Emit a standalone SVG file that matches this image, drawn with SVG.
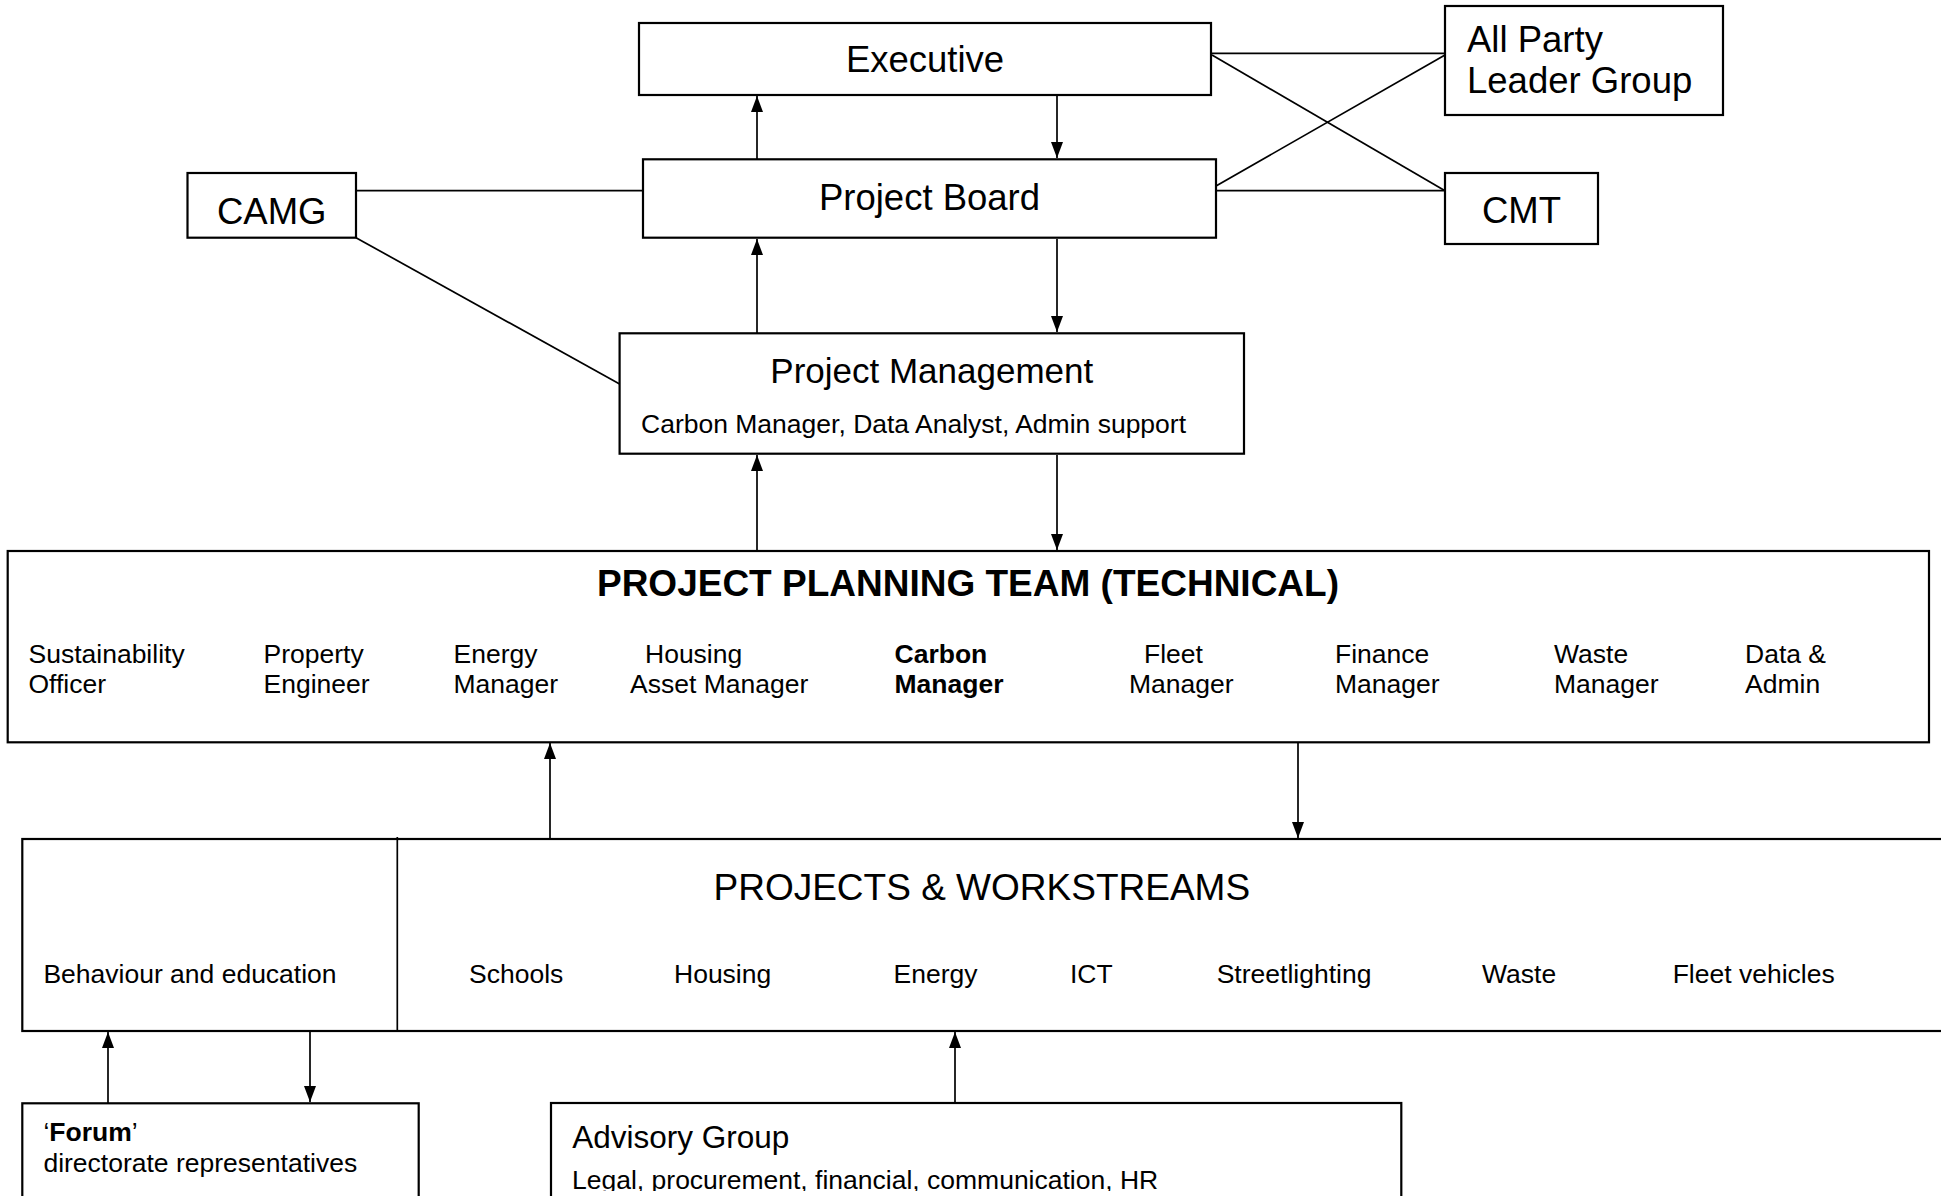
<svg xmlns="http://www.w3.org/2000/svg" width="1941" height="1196" viewBox="0 0 1941 1196">
<style>
  .box { fill: #ffffff; stroke: #000000; stroke-width: 2.2; }
  .ln { stroke: #000000; stroke-width: 1.7; fill: none; }
  .arr { stroke: #000000; stroke-width: 1.7; fill: none; marker-end: url(#ah); }
  text { font-family: "Liberation Sans", Arial, Helvetica, sans-serif; fill: #000000; }
  .big { font-size: 36.5px; }
  .pm { font-size: 35px; }
  .sm { font-size: 26.5px; }
  .smb { font-size: 26.5px; font-weight: bold; }
  .nb { font-weight: normal; }
  .ttl { font-size: 37px; font-weight: bold; }
  .pw { font-size: 37px; }
  .adv { font-size: 31.5px; }
  .mid { text-anchor: middle; }
</style>
<defs>
  <marker id="ah" viewBox="0 0 16 12" refX="16" refY="6" markerWidth="16" markerHeight="12" markerUnits="userSpaceOnUse" orient="auto">
    <path d="M0,0 L16,6 L0,12 Z" fill="#000000"/>
  </marker>
  <clipPath id="cut">
    <rect x="0" y="0" width="1941" height="1191"/>
  </clipPath>
</defs>

<g id="connectors">
  <line class="arr" x1="757" y1="159" x2="757" y2="96"/>
  <line class="arr" x1="1057" y1="96" x2="1057" y2="158"/>
  <line class="arr" x1="757" y1="333" x2="757" y2="239"/>
  <line class="arr" x1="1057" y1="239" x2="1057" y2="332"/>
  <line class="arr" x1="757" y1="551" x2="757" y2="455"/>
  <line class="arr" x1="1057" y1="455" x2="1057" y2="550"/>
  <line class="arr" x1="550" y1="839" x2="550" y2="743"/>
  <line class="arr" x1="1298" y1="743" x2="1298" y2="838"/>
  <line class="arr" x1="108" y1="1103" x2="108" y2="1032"/>
  <line class="arr" x1="310" y1="1032" x2="310" y2="1102"/>
  <line class="arr" x1="955" y1="1103" x2="955" y2="1032"/>
  <line class="ln" x1="356" y1="190.7" x2="643" y2="190.7"/>
  <line class="ln" x1="356" y1="237.7" x2="619.6" y2="384"/>
  <line class="ln" x1="1211" y1="53.3" x2="1445" y2="53.3"/>
  <line class="ln" x1="1212" y1="55" x2="1445" y2="190.7"/>
  <line class="ln" x1="1216" y1="186" x2="1445" y2="55"/>
  <line class="ln" x1="1216" y1="190.7" x2="1445" y2="190.7"/>
</g>

<g id="executive">
  <rect class="box" x="639" y="23" width="572" height="72"/>
  <text class="big mid" x="925" y="72.3">Executive</text>
</g>

<g id="all-party-leader-group">
  <rect class="box" x="1445" y="6" width="278" height="109"/>
  <text class="big" x="1467" y="51.7">All Party</text>
  <text class="big" x="1467" y="93.3">Leader Group</text>
</g>

<g id="camg">
  <rect class="box" x="187.5" y="173" width="168.5" height="64.7"/>
  <text class="big mid" x="271.7" y="224">CAMG</text>
</g>

<g id="project-board">
  <rect class="box" x="643" y="159.3" width="573" height="78.4"/>
  <text class="big mid" x="929.5" y="210">Project Board</text>
</g>

<g id="cmt">
  <rect class="box" x="1445" y="173" width="153" height="71"/>
  <text class="big mid" x="1521.5" y="223.3">CMT</text>
</g>

<g id="project-management">
  <rect class="box" x="619.6" y="333.3" width="624.4" height="120.4"/>
  <text class="pm mid" x="931.8" y="383.3">Project Management</text>
  <text class="sm" x="641" y="432.7">Carbon Manager, Data Analyst, Admin support</text>
</g>

<g id="project-planning-team">
  <rect class="box" x="7.7" y="551" width="1921.3" height="191.3"/>
  <text class="ttl mid" x="968" y="595.7">PROJECT PLANNING TEAM (TECHNICAL)</text>
  <text class="sm" x="28.5" y="663.3">Sustainability</text>
  <text class="sm" x="28.5" y="693.3">Officer</text>
  <text class="sm" x="263.5" y="663.3">Property</text>
  <text class="sm" x="263.5" y="693.3">Engineer</text>
  <text class="sm" x="453.5" y="663.3">Energy</text>
  <text class="sm" x="453.5" y="693.3">Manager</text>
  <text class="sm" x="645" y="663.3">Housing</text>
  <text class="sm" x="630" y="693.3">Asset Manager</text>
  <text class="smb" x="894.5" y="663.3">Carbon</text>
  <text class="smb" x="894.5" y="693.3">Manager</text>
  <text class="sm" x="1144" y="663.3">Fleet</text>
  <text class="sm" x="1129" y="693.3">Manager</text>
  <text class="sm" x="1335" y="663.3">Finance</text>
  <text class="sm" x="1335" y="693.3">Manager</text>
  <text class="sm" x="1554" y="663.3">Waste</text>
  <text class="sm" x="1554" y="693.3">Manager</text>
  <text class="sm" x="1745" y="663.3">Data &amp;</text>
  <text class="sm" x="1745" y="693.3">Admin</text>
</g>

<g id="projects-workstreams">
  <rect class="box" x="22.3" y="839" width="1940" height="192"/>
  <line class="ln" x1="397.3" y1="837" x2="397.3" y2="1031"/>
  <text class="sm" x="43.4" y="983">Behaviour and education</text>
  <text class="pw" x="713.5" y="900">PROJECTS &amp; WORKSTREAMS</text>
  <text class="sm" x="469" y="983">Schools</text>
  <text class="sm" x="674" y="983">Housing</text>
  <text class="sm" x="893.5" y="983">Energy</text>
  <text class="sm" x="1070" y="983">ICT</text>
  <text class="sm" x="1216.7" y="983">Streetlighting</text>
  <text class="sm" x="1482" y="983">Waste</text>
  <text class="sm" x="1672.7" y="983">Fleet vehicles</text>
</g>

<g id="forum">
  <rect class="box" x="22.3" y="1103.3" width="396.4" height="130"/>
  <text class="smb" x="43.4" y="1140.7"><tspan class="nb">‘</tspan>Forum<tspan class="nb">’</tspan></text>
  <text class="sm" x="43.4" y="1171.5">directorate representatives</text>
</g>

<g id="advisory-group">
  <rect class="box" x="551" y="1103" width="850.3" height="130"/>
  <text class="adv" x="572.3" y="1148.3">Advisory Group</text>
  <text class="sm" x="572" y="1189" clip-path="url(#cut)">Legal, procurement, financial, communication, HR</text>
</g>
</svg>
